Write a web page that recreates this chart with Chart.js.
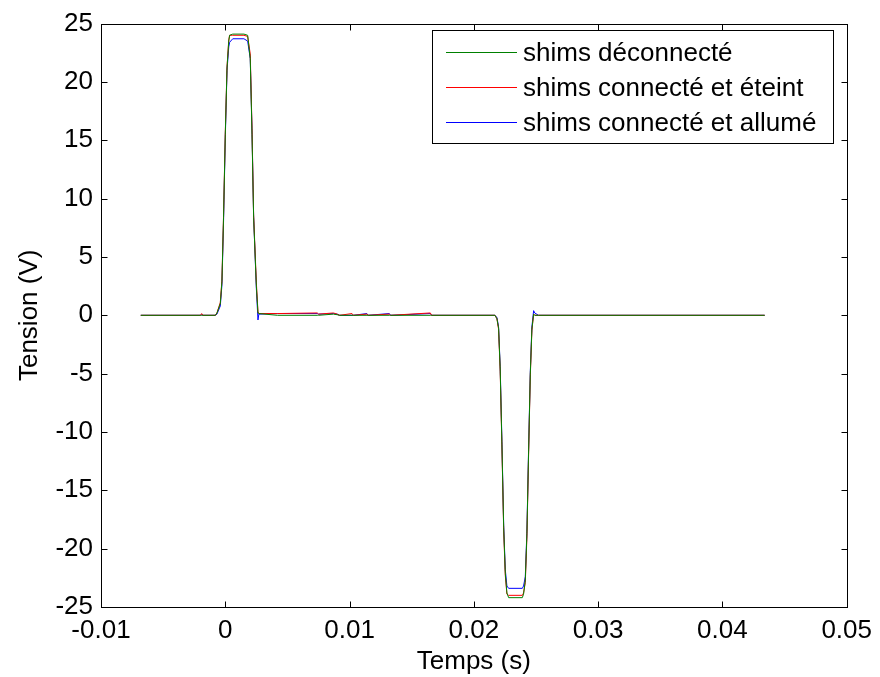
<!DOCTYPE html>
<html>
<head>
<meta charset="utf-8">
<script src="https://cdn.jsdelivr.net/npm/chart.js@4/dist/chart.umd.min.js"></script>
<style>
  html, body { margin: 0; padding: 0; background: #fff; }
  #wrap { width: 880px; height: 677px; }
</style>
</head>
<body>
<div id="wrap"><canvas id="chart" width="880" height="677"></canvas></div>
<script>
// time axis (s), shared by the three recordings
const times = [
  -0.0068, -0.0020, -0.0019, -0.0018, -0.0008, -0.00067, -0.0004, -0.00027, -0.00014, 0.0,
  0.00014, 0.00028, 0.00035, 0.0006, 0.0015, 0.0018, 0.00201, 0.00215, 0.00228, 0.0025,
  0.00263, 0.0027, 0.0042, 0.0074, 0.0075, 0.0087, 0.009, 0.0092, 0.0102, 0.0103,
  0.0114, 0.0115, 0.0132, 0.0133, 0.0165, 0.0166, 0.0217, 0.02186, 0.02199, 0.02212,
  0.02226, 0.0224, 0.02253, 0.02266, 0.0228, 0.0239, 0.024, 0.02414, 0.02427, 0.0244,
  0.02454, 0.02467, 0.02481, 0.0249, 0.0252, 0.0434
];

// tension (V)
const deconnecte = [
  0, 0, 0, 0, 0, 0.2, 1.0, 2.9, 8.4, 15.5,
  21.2, 23.5, 24.0, 24.1, 24.1, 24.0, 22.0, 15.5, 8.4, 2.5,
  0.2, 0.15, 0, 0, 0, 0.1, 0.05, 0, 0, 0,
  0, 0, 0, 0, 0, 0, 0, -0.3, -1.1, -4.6,
  -11.1, -18.2, -22.1, -23.8, -24.2, -24.2, -23.9, -22.7, -18.7, -11.9,
  -5.1, -1.2, 0.1, 0, 0, 0
];
const connecteEteint = [
  0, 0, 0.15, 0, 0, 0.2, 1.1, 3.0, 8.5, 15.6,
  21.3, 23.6, 24.0, 24.0, 24.0, 23.9, 22.4, 16.0, 8.6, 2.8,
  0.3, 0.15, 0.15, 0.2, 0.1, 0.2, 0.1, 0, 0.15, 0,
  0.1, 0, 0.1, 0, 0.2, 0, 0, -0.3, -1.2, -4.8,
  -11.3, -18.4, -22.3, -23.9, -24.0, -24.0, -23.8, -22.9, -19.0, -12.2,
  -5.3, -1.3, 0.1, 0, 0, 0
];
const connecteAllume = [
  0, 0, 0.05, 0, 0, 0.1, 0.8, 2.6, 8.0, 15.2,
  21.0, 23.0, 23.4, 23.7, 23.7, 23.5, 22.0, 15.8, 8.5, 2.3,
  -0.4, 0.1, 0.15, 0.15, 0.1, 0.15, 0.1, 0, 0, 0,
  0.15, 0, 0.15, 0, 0.15, 0, 0, -0.2, -1.0, -4.4,
  -10.8, -18.0, -21.8, -23.2, -23.4, -23.4, -23.2, -22.4, -18.5, -11.7,
  -4.9, -1.0, 0.4, 0.2, 0, 0
];

const seriesLabels = ['shims déconnecté', 'shims connecté et éteint', 'shims connecté et allumé'];
const seriesColors = ['#008000', '#ff0000', '#0000ff'];
const seriesValues = [deconnecte, connecteEteint, connecteAllume];

const xTicks = [-0.01, 0, 0.01, 0.02, 0.03, 0.04, 0.05];
const yTicks = [-25, -20, -15, -10, -5, 0, 5, 10, 15, 20, 25];

const FONT = 'Arial, "Liberation Sans", Helvetica, sans-serif';

// matlab-like box, inward ticks and legend box
const matlabBox = {
  id: 'matlabBox',
  afterDraw(chart) {
    const ctx = chart.ctx;
    const a = chart.chartArea;
    const xs = chart.scales.x, ys = chart.scales.y;
    const L = Math.round(a.left) + 0.5, R = Math.round(a.right) + 0.5;
    const T = Math.round(a.top) + 0.5, B = Math.round(a.bottom) + 0.5;
    ctx.save();
    ctx.strokeStyle = '#000';
    ctx.lineWidth = 1;
    ctx.strokeRect(L, T, R - L, B - T);
    const tl = 6;
    ctx.beginPath();
    xTicks.forEach(v => {
      const px = Math.round(xs.getPixelForValue(v)) + 0.5;
      ctx.moveTo(px, B); ctx.lineTo(px, B - tl);
      ctx.moveTo(px, T); ctx.lineTo(px, T + tl);
    });
    yTicks.forEach(v => {
      const py = Math.round(ys.getPixelForValue(v)) + 0.5;
      ctx.moveTo(L, py); ctx.lineTo(L + tl, py);
      ctx.moveTo(R, py); ctx.lineTo(R - tl, py);
    });
    ctx.stroke();

    // legend
    const bx = 432.5, by = 30.5, bw = 401, bh = 113;
    ctx.fillStyle = '#fff';
    ctx.fillRect(bx, by, bw, bh);
    ctx.strokeStyle = '#000';
    ctx.strokeRect(bx, by, bw, bh);
    ctx.font = '26px ' + FONT;
    ctx.textBaseline = 'middle';
    ctx.textAlign = 'left';
    seriesLabels.forEach((lab, i) => {
      const cy = 52 + i * 35;
      ctx.strokeStyle = seriesColors[i];
      ctx.beginPath();
      ctx.moveTo(446, cy + 0.5); ctx.lineTo(517, cy + 0.5);
      ctx.stroke();
      ctx.fillStyle = '#000';
      ctx.fillText(lab, 523, cy + 2);
    });
    ctx.restore();
  }
};

const datasets = seriesValues.map((vals, i) => ({
  label: seriesLabels[i],
  data: times.map((t, k) => ({ x: t, y: vals[k] })),
  borderColor: seriesColors[i],
  borderWidth: 1,
  pointRadius: 0,
  tension: 0,
  fill: false
}));

new Chart(document.getElementById('chart'), {
  type: 'line',
  data: { datasets: datasets },
  plugins: [matlabBox],
  options: {
    responsive: false,
    animation: false,
    layout: { padding: { left: 0, right: 33, top: 18, bottom: 0 } },
    plugins: { legend: { display: false }, tooltip: { enabled: false } },
    scales: {
      x: {
        type: 'linear',
        min: -0.01, max: 0.05,
        afterBuildTicks: s => { s.ticks = xTicks.map(v => ({ value: v })); },
        afterFit: s => { s.height = 70; },
        grid: { display: false, drawTicks: false },
        border: { display: false },
        ticks: {
          color: '#000', padding: 8, maxRotation: 0, autoSkip: false,
          font: { family: FONT, size: 26 },
          callback: v => String(Number(v.toFixed(4)))
        },
        title: {
          display: true, text: 'Temps (s)', color: '#000', padding: { top: 0, bottom: 0 },
          font: { family: FONT, size: 26 }
        }
      },
      y: {
        type: 'linear',
        min: -25, max: 25,
        afterBuildTicks: s => { s.ticks = yTicks.map(v => ({ value: v })); },
        afterFit: s => { s.width = 101; },
        grid: { display: false, drawTicks: false },
        border: { display: false },
        ticks: {
          color: '#000', padding: 8, autoSkip: false,
          font: { family: FONT, size: 26 }
        },
        title: {
          display: true, text: 'Tension (V)', color: '#000', padding: { top: 14, bottom: 0 },
          font: { family: FONT, size: 26 }
        }
      }
    }
  }
});
</script>
</body>
</html>
